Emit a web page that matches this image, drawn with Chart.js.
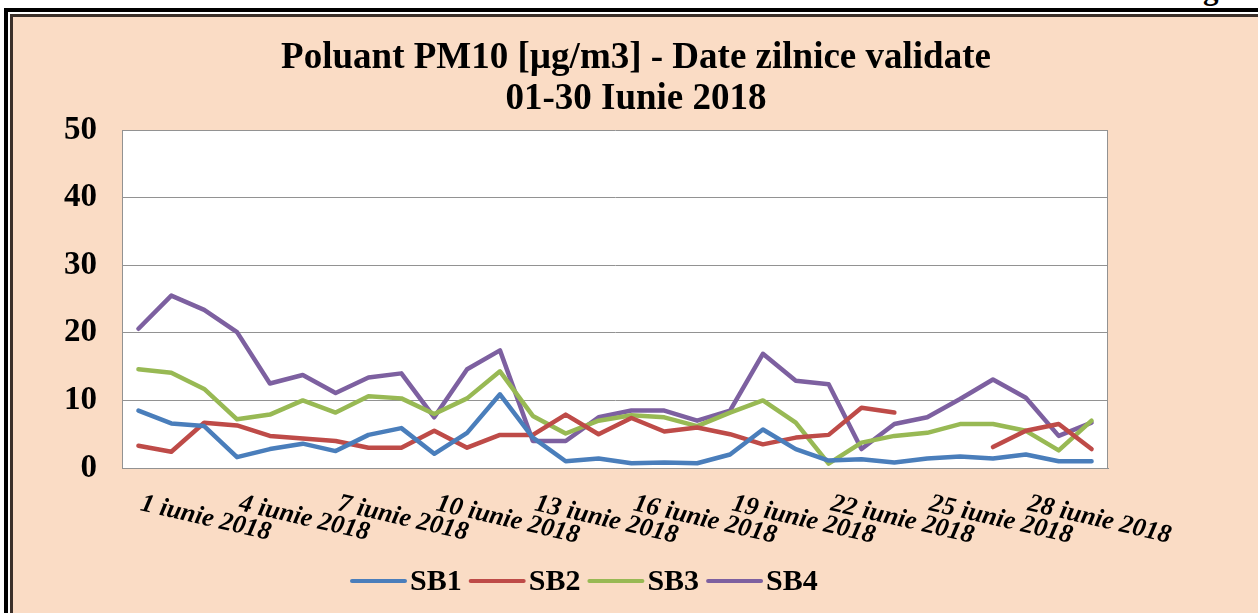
<!DOCTYPE html>
<html>
<head>
<meta charset="utf-8">
<script src="https://cdn.jsdelivr.net/npm/chart.js@4.4.1/dist/chart.umd.min.js"></script>
<style>
  html, body { margin:0; padding:0; width:1258px; height:613px; overflow:hidden; background:#ffffff; }
  #outer { position:absolute; left:4px; top:8px; width:1400px; height:800px; border-left:4px solid #000; border-top:4px solid #000; box-sizing:border-box; }
  #inner { position:absolute; left:10px; top:14px; width:1400px; height:800px; border-left:3px solid #3b302a; border-top:3px solid #3b302a; background:#FADCC5; box-sizing:border-box; }
  #cut { position:absolute; left:1203px; top:-27px; font:bold 31px/31px "Liberation Serif", serif; color:#000; }
  canvas { position:absolute; left:0; top:0; }
</style>
</head>
<body>
<div id="outer"></div>
<div id="inner"></div>
<div id="cut">g</div>
<canvas id="c" width="1258" height="613"></canvas>
<script>
const titleLines = ["Poluant PM10 [µg/m3] - Date zilnice validate", "01-30 Iunie 2018"];
const days = ["1 iunie 2018","2 iunie 2018","3 iunie 2018","4 iunie 2018","5 iunie 2018","6 iunie 2018",
  "7 iunie 2018","8 iunie 2018","9 iunie 2018","10 iunie 2018","11 iunie 2018","12 iunie 2018",
  "13 iunie 2018","14 iunie 2018","15 iunie 2018","16 iunie 2018","17 iunie 2018","18 iunie 2018",
  "19 iunie 2018","20 iunie 2018","21 iunie 2018","22 iunie 2018","23 iunie 2018","24 iunie 2018",
  "25 iunie 2018","26 iunie 2018","27 iunie 2018","28 iunie 2018","29 iunie 2018","30 iunie 2018"];
const xTickLabels = ["1 iunie 2018","4 iunie 2018","7 iunie 2018","10 iunie 2018","13 iunie 2018",
  "16 iunie 2018","19 iunie 2018","22 iunie 2018","25 iunie 2018","28 iunie 2018"];
const yTicks = [0, 10, 20, 30, 40, 50];

const sb1 = [8.5, 6.6, 6.2, 1.6, 2.8, 3.6, 2.5, 4.9, 5.9, 2.1, 5.2, 10.9, 4.5, 1.0, 1.4, 0.7, 0.8, 0.7, 2.0, 5.7, 2.8, 1.1, 1.3, 0.8, 1.4, 1.7, 1.4, 2.0, 1.0, 1.0];
const sb2 = [3.3, 2.4, 6.7, 6.3, 4.75, 4.35, 4.0, 3.0, 3.0, 5.5, 3.0, 4.9, 4.9, 7.9, 5.0, 7.4, 5.4, 6.0, 5.0, 3.5, 4.5, 4.9, 8.9, 8.2, null, null, 3.1, 5.5, 6.5, 2.8];
const sb3 = [14.6, 14.1, 11.7, 7.2, 7.9, 10.0, 8.2, 10.6, 10.3, 8.0, 10.3, 14.3, 7.7, 5.1, 7.0, 7.8, 7.5, 6.2, 8.2, 10.0, 6.7, 0.65, 3.75, 4.75, 5.2, 6.5, 6.5, 5.5, 2.6, 7.0];
const sb4 = [20.6, 25.5, 23.4, 20.1, 12.5, 13.75, 11.1, 13.4, 14.0, 7.5, 14.6, 17.4, 4.0, 4.0, 7.5, 8.5, 8.5, 7.0, 8.5, 16.9, 12.9, 12.4, 2.8, 6.5, 7.5, 10.2, 13.1, 10.4, 4.75, 6.7];

const seriesNames = ["SB1", "SB2", "SB3", "SB4"];
const seriesColors = ["#4A7EBB", "#BE4B48", "#98B954", "#7D60A0"];
const seriesValues = [sb1, sb2, sb3, sb4];

const SERIF = '"Liberation Serif", "Times New Roman", serif';
const GRID = '#929292';

const deco = {
  id: 'deco',
  beforeDraw(chart) {
    const { ctx, chartArea: a } = chart;
    ctx.save();
    ctx.fillStyle = '#ffffff';
    ctx.fillRect(a.left, a.top, a.right - a.left, a.bottom - a.top);
    ctx.restore();
  },
  beforeDatasetsDraw(chart) {
    const { ctx, chartArea: a } = chart;
    ctx.save();
    ctx.strokeStyle = GRID; ctx.lineWidth = 1;
    ctx.beginPath();
    ctx.moveTo(Math.round(a.right) - 0.5, a.top);
    ctx.lineTo(Math.round(a.right) - 0.5, a.bottom);
    ctx.stroke();
    ctx.restore();
  },
  afterDraw(chart) {
    const { ctx, scales: { x } } = chart;
    ctx.save();
    // title
    ctx.fillStyle = '#000';
    ctx.textAlign = 'center';
    ctx.textBaseline = 'middle';
    ctx.font = 'bold 37px ' + SERIF;
    titleLines.forEach((t, i) => ctx.fillText(t, 636, 58 + i * 41));
    // rotated category labels
    ctx.font = 'italic bold 26px ' + SERIF;
    ctx.textAlign = 'left';
    ctx.textBaseline = 'alphabetic';
    xTickLabels.forEach(lbl => {
      const px = x.getPixelForValue(days.indexOf(lbl));
      ctx.save();
      ctx.translate(px + 1, 510);
      ctx.rotate(13 * Math.PI / 180);
      ctx.fillText(lbl, 0, 0);
      ctx.restore();
    });
    // legend
    ctx.font = 'bold 30px ' + SERIF;
    ctx.textBaseline = 'middle';
    let lx = 352;
    const ly = 581;
    chart.data.datasets.forEach(ds => {
      ctx.strokeStyle = ds.borderColor;
      ctx.lineWidth = 4;
      ctx.lineCap = 'round';
      ctx.beginPath();
      ctx.moveTo(lx, ly);
      ctx.lineTo(lx + 53, ly);
      ctx.stroke();
      lx += 58;
      ctx.fillStyle = '#000';
      ctx.fillText(ds.label, lx, ly + 1);
      lx += ctx.measureText(ds.label).width + 9;
    });
    ctx.restore();
  }
};

new Chart(document.getElementById('c'), {
  type: 'line',
  data: {
    labels: days,
    datasets: seriesNames.map((n, i) => ({
      label: n,
      data: seriesValues[i],
      borderColor: seriesColors[i],
      backgroundColor: seriesColors[i],
      borderWidth: 4.5,
      pointRadius: 0,
      pointHoverRadius: 0,
      tension: 0,
      spanGaps: false,
      borderCapStyle: 'round',
      borderJoinStyle: 'round',
      fill: false
    }))
  },
  options: {
    responsive: false,
    animation: false,
    devicePixelRatio: 1,
    layout: { padding: { left: 0, right: 150, top: 130, bottom: 0 } },
    plugins: {
      legend: { display: false },
      title: { display: false },
      tooltip: { enabled: false }
    },
    scales: {
      x: {
        offset: true,
        grid: { display: false },
        border: { display: true, color: GRID, width: 1 },
        ticks: { display: false },
        afterFit(s) { s.height = 145; }
      },
      y: {
        min: 0, max: 50,
        afterBuildTicks(s) { s.ticks = yTicks.map(v => ({ value: v })); },
        grid: { color: GRID, lineWidth: 1, drawTicks: false },
        border: { display: true, color: GRID, width: 1 },
        ticks: {
          color: '#000',
          padding: 25,
          font: { family: SERIF, size: 33, weight: 'bold' }
        },
        afterFit(s) { s.width = 122; }
      }
    }
  },
  plugins: [deco]
});
</script>
</body>
</html>
